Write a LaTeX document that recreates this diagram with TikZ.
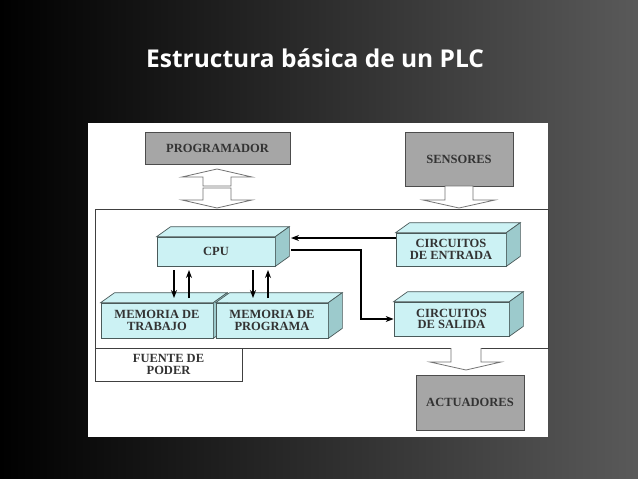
\documentclass[tikz,border=0pt]{standalone}
\usepackage{fontspec}
\setmainfont{Liberation Serif}
\newfontfamily\titlefont{Open Sans}
\usetikzlibrary{calc,arrows.meta}
\definecolor{cyanf}{HTML}{CCF2F4}
\definecolor{cyans}{HTML}{9CCACC}
\definecolor{boxg}{HTML}{A6A6A6}
\definecolor{edge}{HTML}{4A5A5A}
\newcommand\depthbox[1]{%
  \filldraw[fill=cyanf,draw=edge,line width=0.7pt] (#1.north west) -- ++(14,-10) -- ($(#1.north east)+(14,-10)$) -- (#1.north east) -- cycle;
  \filldraw[fill=cyans,draw=edge,line width=0.7pt] (#1.north east) -- ++(14,-10) -- ($(#1.south east)+(14,-10)$) -- (#1.south east) -- cycle;}
\begin{document}
\begin{tikzpicture}[x=1pt,y=-1pt,
  fb/.style={draw=edge,line width=0.7pt,fill=cyanf,inner sep=0pt,align=center,font=\bfseries\fontsize{12.5}{11.5}\selectfont,text=black!80},
  gb/.style={draw=black!70,line width=1pt,fill=boxg,inner sep=0pt,align=center,font=\bfseries\fontsize{12.5}{11.5}\selectfont,text=black!80},
  hollow/.style={draw=black!55,fill=white,line width=0.8pt},
  arr/.style={-{Stealth[length=8pt,width=6pt]},line width=1.3pt}]
\useasboundingbox (0,0) rectangle (638,479);
\fill[black] (0,0) rectangle (638,479);
\shade[left color=black,middle color=black!97,right color=black!65] (0,0) rectangle (638,479);
\node[text=white,font=\titlefont\bfseries\fontsize{24.5}{26}\selectfont,anchor=west,inner sep=0pt] (title) at (146,58) {Estructura básica de un PLC};
\fill[white] (88,123) rectangle (548,437);
% main boxes
\draw[black!75,line width=1pt] (95,209) rectangle (548,348);
\node[draw=black!75,line width=1pt,minimum width=147pt,minimum height=33pt,inner sep=0pt,align=center,font=\bfseries\fontsize{12.5}{11.5}\selectfont,text=black!80] (fuente) at (168.5,364.5) {FUENTE DE\\PODER};
\node[gb,minimum width=145pt,minimum height=32pt] (prog) at (217.5,148) {PROGRAMADOR};
\node[gb,minimum width=108pt,minimum height=54pt] (sens) at (459,159) {SENSORES};
\node[gb,minimum width=108pt,minimum height=55pt] (act) at (470,402.5) {ACTUADORES};
% 3D boxes
\node[fb,minimum width=118pt,minimum height=29pt] (cpu) at (216,251.5) {CPU};
\depthbox{cpu}
\node[fb,minimum width=110pt,minimum height=33pt] (ent) at (451,249.5) {CIRCUITOS\\DE ENTRADA};
\depthbox{ent}
\node[fb,minimum width=115pt,minimum height=34pt] (sal) at (451.5,319) {CIRCUITOS\\DE SALIDA};
\depthbox{sal}
\node[fb,minimum width=112pt,minimum height=35pt] (mt) at (157,320.5) {MEMORIA DE\\TRABAJO};
\depthbox{mt}
\node[fb,minimum width=112pt,minimum height=35pt] (mp) at (272,320.5) {MEMORIA DE\\PROGRAMA};
\depthbox{mp}
% arrows
\coordinate (c1) at (361,250);
\draw[arr] (ent.west |- 0,238) -- (291,238);
\draw[arr] (291,250) -- (c1) |- (sal.west);
\draw[arr] (174,270) -- (174,298);
\draw[arr] (189,298) -- (189,270);
\draw[arr] (253,270) -- (253,298);
\draw[arr] (268,298) -- (268,270);
% hollow arrows
\draw[hollow] (203,186) -- (203,177) -- (182,177) -- (217,169) -- (252,177) -- (231,177) -- (231,186) -- cycle;
\draw[hollow] (203,188) -- (203,200) -- (182,200) -- (217,208) -- (252,200) -- (231,200) -- (231,188) -- cycle;
\draw[hollow] (445,186) -- (445,200) -- (423,200) -- (459,208) -- (495,200) -- (473,200) -- (473,186) -- cycle;
\draw[hollow] (451,348) -- (451,362) -- (430,362) -- (466,370) -- (501,362) -- (481,362) -- (481,348);
\end{tikzpicture}
\end{document}
